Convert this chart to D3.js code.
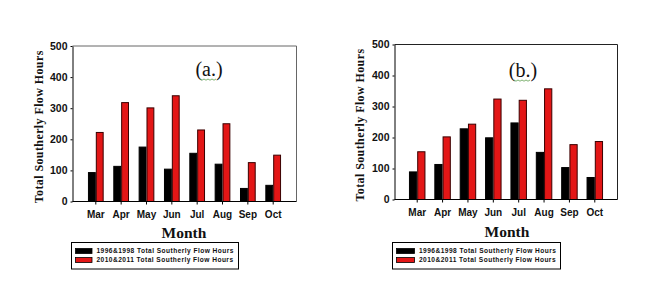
<!DOCTYPE html>
<html>
<head>
<meta charset="utf-8">
<script src="https://cdn.jsdelivr.net/npm/d3@7"></script>
<style>
  body { margin: 0; background: #fff; }
  svg { display: block; }
  .tick text { font-family: "Liberation Sans", Arial, sans-serif; font-weight: bold; }
</style>
</head>
<body>
<svg id="canvas" width="663" height="300"></svg>
<script>
// data
var months = ["Mar", "Apr", "May", "Jun", "Jul", "Aug", "Sep", "Oct"];
var seriesNames = ["1996&1998 Total  Southerly Flow Hours", "2010&2011 Total  Southerly Flow Hours"];
var panelA_9698 = [93, 113, 175, 104, 155, 120, 42, 52];
var panelA_1011 = [222, 318, 301, 340, 230, 250, 125, 149];
var panelB_9698 = [89, 113, 228, 199, 247, 152, 103, 71];
var panelB_1011 = [154, 202, 243, 324, 320, 357, 177, 187];
var yTicks = [0, 100, 200, 300, 400, 500];
var colors = ["#000000", "#e31616"];
var strokes = ["#000000", "#3a0000"];

var svg = d3.select("#canvas");

function drawPanel(cfg) {
  var g = svg.append("g");

  var x0 = d3.scaleBand()
    .domain(months)
    .range([cfg.left, cfg.right])
    .paddingInner(cfg.pi)
    .paddingOuter(cfg.po);

  var x1 = d3.scaleBand()
    .domain([0, 1])
    .range([0, x0.bandwidth()]);

  var y = d3.scaleLinear()
    .domain([0, 500])
    .range([cfg.bottom, cfg.top]);

  // frame (top and right)
  g.append("path")
    .attr("d", "M" + cfg.left + "," + cfg.top + "H" + cfg.right + "V" + cfg.bottom)
    .attr("fill", "none")
    .attr("stroke", cfg.frame)
    .attr("stroke-width", 1);

  var data = months.map(function(m, i) {
    return { month: m, vals: [cfg.a[i], cfg.b[i]] };
  });

  var grp = g.selectAll(".grp")
    .data(data)
    .enter().append("g")
    .attr("transform", function(d) { return "translate(" + x0(d.month) + ",0)"; });

  grp.selectAll("rect")
    .data(function(d) { return d.vals.map(function(v, k) { return { k: k, v: v }; }); })
    .enter().append("rect")
    .attr("x", function(d) { return x1(d.k) + 0.5; })
    .attr("width", x1.bandwidth() - 1)
    .attr("y", function(d) { return y(d.v); })
    .attr("height", function(d) { return y(0) - y(d.v); })
    .attr("fill", function(d) { return colors[d.k]; })
    .attr("stroke", function(d) { return strokes[d.k]; })
    .attr("stroke-width", 1);

  var yAxis = g.append("g")
    .attr("transform", "translate(" + cfg.left + ",0)")
    .call(d3.axisLeft(y).tickValues(yTicks).tickSize(2).tickPadding(3).tickSizeOuter(0));
  yAxis.selectAll("text").attr("font-size", 10.5).attr("fill", "#111");
  yAxis.select(".domain").attr("stroke", "#000");

  var xAxis = g.append("g")
    .attr("transform", "translate(0," + cfg.bottom + ")")
    .call(d3.axisBottom(x0).tickSize(3).tickPadding(6).tickSizeOuter(0));
  xAxis.selectAll("text").attr("font-size", 10).attr("fill", "#111");
  xAxis.select(".domain")
    .attr("d", "M" + cfg.left + ",0H" + cfg.right)
    .attr("stroke", "#000");

  // y title
  g.append("text")
    .attr("transform", "translate(" + cfg.ytitleX + "," + ((cfg.top + cfg.bottom) / 2 + 3) + ") rotate(-90)")
    .attr("text-anchor", "middle")
    .attr("font-family", "'Liberation Serif', 'Times New Roman', serif")
    .attr("font-weight", "bold")
    .attr("font-size", 12)
    .attr("letter-spacing", 0.4)
    .attr("fill", "#111")
    .text("Total Southerly Flow Hours");

  // x title
  g.append("text")
    .attr("x", cfg.monthX)
    .attr("y", cfg.monthY)
    .attr("text-anchor", "middle")
    .attr("font-family", "'Liberation Serif', 'Times New Roman', serif")
    .attr("font-weight", "bold")
    .attr("font-size", 15.5)
    .attr("fill", "#111")
    .text("Month");

  // panel label
  g.append("text")
    .attr("x", cfg.labelX)
    .attr("y", cfg.labelY)
    .attr("text-anchor", "middle")
    .attr("font-family", "'Liberation Serif', 'Times New Roman', serif")
    .attr("font-size", 20)
    .attr("fill", "#111")
    .text(cfg.label);

  // spell-check squiggle under the label
  var sq = d3.range(0, 9).map(function(i) {
    return [cfg.labelX - 9 + i * 2, cfg.labelY + 3 + (i % 2 ? 1.2 : 0)];
  });
  g.append("path")
    .attr("d", d3.line()(sq))
    .attr("fill", "none")
    .attr("stroke", "#5f9f4f")
    .attr("stroke-width", 0.8);

  // legend
  var lg = g.append("g");
  lg.append("rect")
    .attr("x", cfg.legX + 0.5)
    .attr("y", cfg.legY + 0.5)
    .attr("width", cfg.legW)
    .attr("height", 26.5)
    .attr("fill", "#fff")
    .attr("stroke", "#000")
    .attr("stroke-width", 1);

  seriesNames.forEach(function(name, k) {
    var ry = cfg.legY + 9 + k * 9;
    lg.append("rect")
      .attr("x", cfg.legX + 4.5)
      .attr("y", ry - 2.5)
      .attr("width", cfg.swW)
      .attr("height", 5)
      .attr("fill", colors[k])
      .attr("stroke", "#000")
      .attr("stroke-width", 0.8);
    lg.append("text")
      .attr("x", cfg.legX + cfg.swW + 9)
      .attr("y", ry + 2.4)
      .attr("font-family", "'Liberation Sans', Arial, sans-serif")
      .attr("font-weight", "bold")
      .attr("font-size", 6.6)
      .attr("letter-spacing", 0.45)
      .attr("fill", "#111")
      .text(name);
  });
}

drawPanel({
  a: panelA_9698, b: panelA_1011,
  left: 72.5, right: 296.5, top: 46, bottom: 201.5,
  pi: 0.38, po: 0.61, frame: "#666",
  ytitleX: 43, monthX: 184, monthY: 238,
  label: "(a.)", labelX: 209, labelY: 76,
  legX: 71, legY: 242, legW: 167, swW: 16.5
});

drawPanel({
  a: panelB_9698, b: panelB_1011,
  left: 394.5, right: 617.5, top: 44.5, bottom: 199.5,
  pi: 0.35, po: 0.57, frame: "#222",
  ytitleX: 364, monthX: 507, monthY: 236.5,
  label: "(b.)", labelX: 523, labelY: 77,
  legX: 392, legY: 242, legW: 168, swW: 18
});
</script>
</body>
</html>
